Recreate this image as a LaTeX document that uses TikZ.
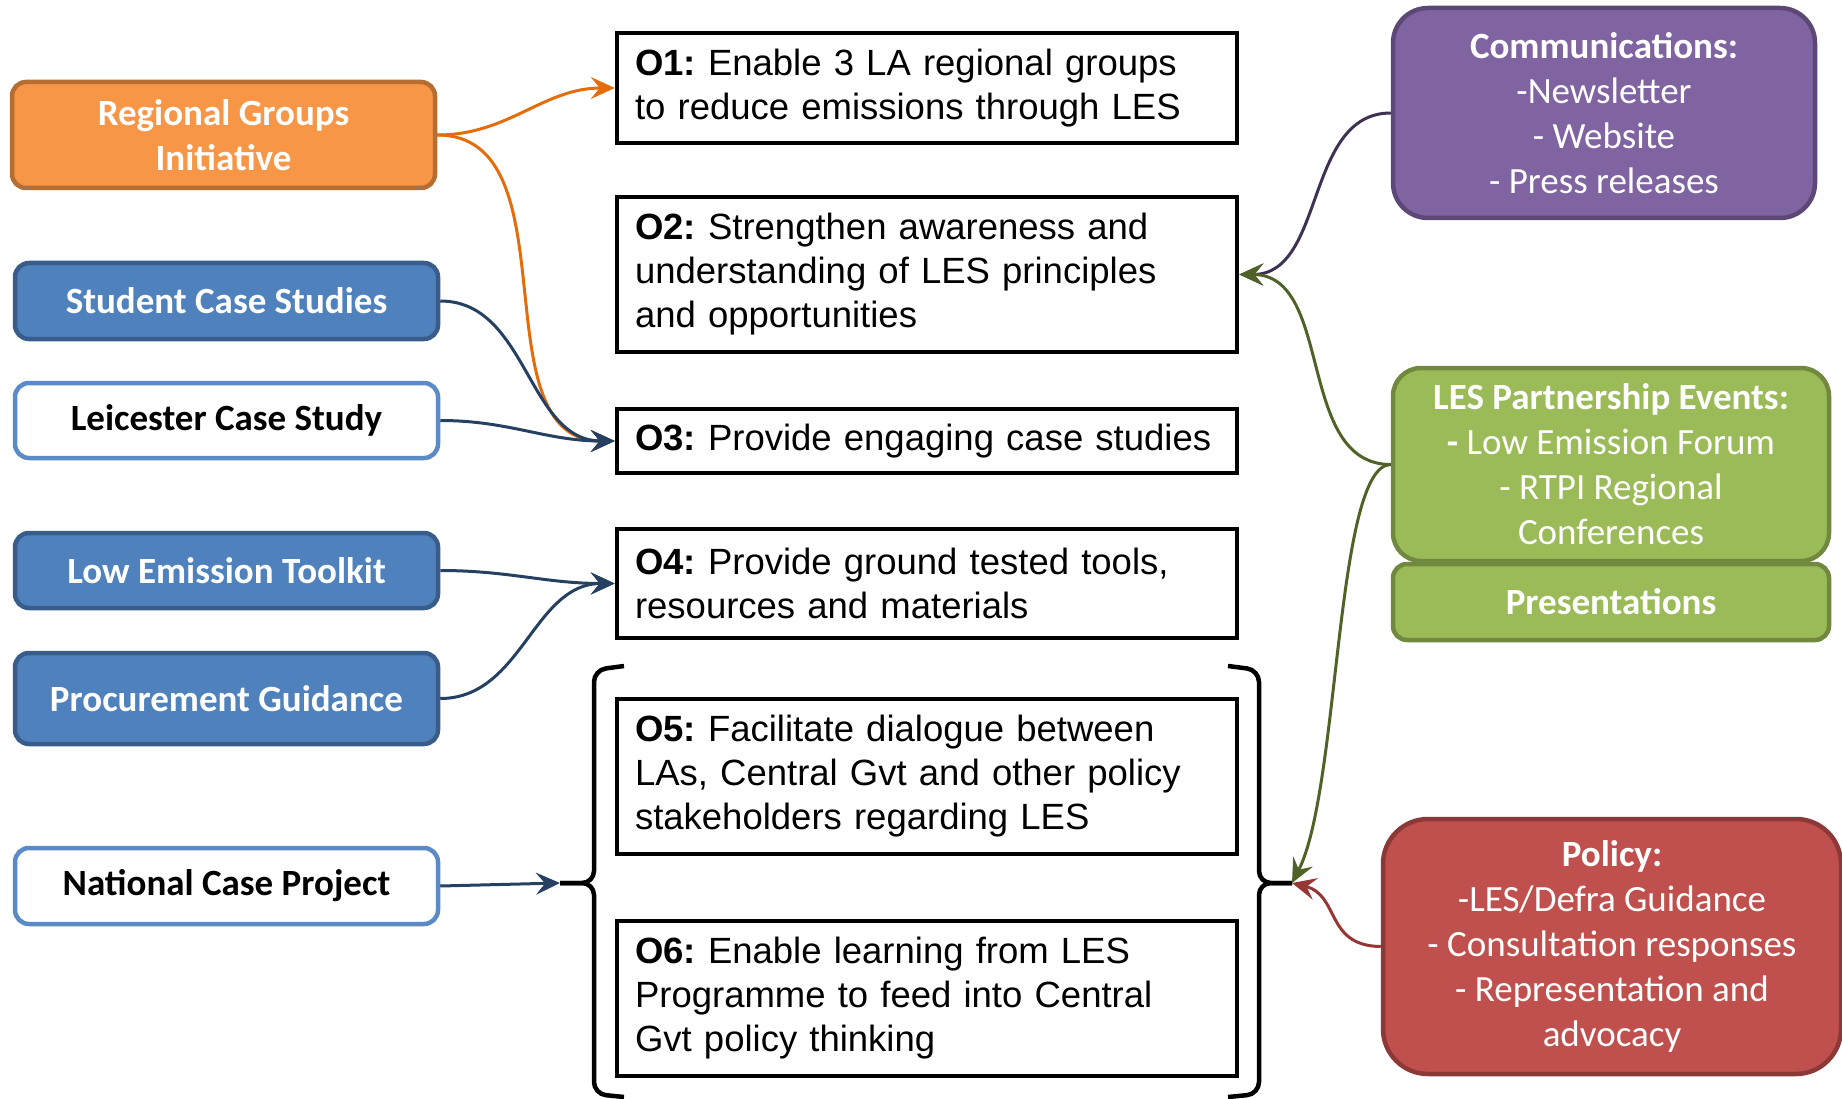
\documentclass[tikz,border=0pt]{standalone}
\usepackage{fontspec}
\setmainfont{Carlito}
\newfontfamily\objfont{Liberation Sans}
\usetikzlibrary{arrows, arrows.meta}
\usetikzlibrary{calc}
\frenchspacing

\definecolor{regfill}{HTML}{F79646}
\definecolor{regline}{HTML}{B66D31}
\definecolor{blufill}{HTML}{4F81BD}
\definecolor{bluline}{HTML}{385D8A}
\definecolor{wbline}{HTML}{5B8BC7}
\definecolor{purfill}{HTML}{8064A2}
\definecolor{purline}{HTML}{5C4776}
\definecolor{grnfill}{HTML}{9BBB59}
\definecolor{grnline}{HTML}{71893F}
\definecolor{redfill}{HTML}{C0504D}
\definecolor{redline}{HTML}{8C3836}
\definecolor{orarrow}{HTML}{E46C0A}
\definecolor{bluarrow}{HTML}{254061}
\definecolor{purarrow}{HTML}{3F3151}
\definecolor{grnarrow}{HTML}{4F6228}
\definecolor{redarrow}{HTML}{953735}

\begin{document}
\begin{tikzpicture}[x=1pt, y=-1pt,
    srcbox/.style={rounded corners=14pt, line width=4.5pt, minimum width=423pt, align=center,
      font=\fontsize{37}{44.5}\selectfont\bfseries},
    sidebox/.style={line width=4.5pt, align=center, text=white, font=\fontsize{37}{45}\selectfont},
    objbox/.style={draw, line width=4.5pt, minimum width=620pt, text width=584pt, inner xsep=18pt,
      align=left, font=\objfont\fontsize{36.5}{44}\selectfont},
    brace/.style={line width=4.5pt, rounded corners=12pt},
    link/.style={line width=3pt, -{Stealth[length=24pt, width=22pt, inset=9pt]}}]
      \useasboundingbox (0,0) rectangle (1842,1099);

      % sources on the left
      \node[srcbox, fill=regfill, draw=regline, text=white, minimum height=106pt] (reg) at (223.5, 135) {Regional Groups\\Initiative};
      \node[srcbox, fill=blufill, draw=bluline, text=white, minimum height=76pt] (stu) at (226.5, 301) {Student Case Studies};
      \node[srcbox, fill=white, draw=wbline, minimum height=75pt] (lei) at (226.5, 420.5) {Leicester Case Study};
      \node[srcbox, fill=blufill, draw=bluline, text=white, minimum height=75pt] (let) at (226.5, 570.5) {Low Emission Toolkit};
      \node[srcbox, fill=blufill, draw=bluline, text=white, minimum height=91pt] (proc) at (226.5, 698.5) {Procurement Guidance};
      \node[srcbox, fill=white, draw=wbline, minimum height=76pt] (nat) at (226.5, 886) {National Case Project};

      % objectives
      \node[objbox, minimum height=110pt] (o1) at (927, 88) {\textbf{O1:} Enable 3 LA regional groups\\to reduce emissions through LES};
      \node[objbox, minimum height=155pt] (o2) at (927, 274.5) {\textbf{O2:} Strengthen awareness and\\understanding of LES principles\\and opportunities};
      \node[objbox, minimum height=64pt] (o3) at (927, 441) {\mbox{\textbf{O3:} Provide engaging case studies}};
      \node[objbox, minimum height=109pt] (o4) at (927, 583.5) {\textbf{O4:} Provide ground tested tools,\\resources and materials};
      \node[objbox, minimum height=155pt] (o5) at (927, 776.5) {\textbf{O5:} Facilitate dialogue between\\LAs, Central Gvt and other policy\\stakeholders regarding LES};
      \node[objbox, minimum height=155pt] (o6) at (927, 998.5) {\textbf{O6:} Enable learning from LES\\Programme to feed into Central\\Gvt policy thinking};

      % braces round O5 and O6
      \coordinate (ltip) at (560, 883);
      \coordinate (rtip) at (1292, 883);
      \draw[brace] (624, 666) -- (594, 670) -- (594, 883) -- (ltip);
      \draw[brace] (ltip) -- (594, 883) -- (594, 1094) -- (624, 1097);
      \draw[brace] (1228, 666) -- (1259, 670) -- (1259, 883) -- (rtip);
      \draw[brace] (rtip) -- (1259, 883) -- (1259, 1094) -- (1228, 1097);

      % activities on the right
      \node[sidebox, fill=purfill, draw=purline, rounded corners=35pt, minimum width=422pt, minimum height=210pt] (comm) at (1604, 113)
        {\textbf{Communications:}\\-Newsletter\\- Website\\- Press releases};
      \node[sidebox, fill=grnfill, draw=grnline, rounded corners=28pt, minimum width=436pt, minimum height=193pt] (evt) at (1611, 464.5)
        {\textbf{LES Partnership Events:}\\\textbf{-} Low Emission Forum\\- RTPI Regional\\Conferences};
      \node[sidebox, fill=grnfill, draw=grnline, rounded corners=14pt, minimum width=436pt, minimum height=76pt] (pres) at (1611, 602)
        {\textbf{Presentations}};
      \node[sidebox, fill=redfill, draw=redline, rounded corners=45pt, minimum width=458pt, minimum height=255pt] (pol) at (1612, 946.5)
        {\textbf{Policy:}\\-LES/Defra Guidance\\- Consultation responses\\- Representation and\\advocacy};

      % connectors
      \draw[link, orarrow] (reg.east) to[out=0, in=180] (o1.west);
      \draw[link, orarrow] (reg.east) to[out=0, in=180] (o3.west);
      \draw[link, bluarrow] (stu.east) to[out=0, in=180] (o3.west);
      \draw[link, bluarrow] (lei.east) to[out=0, in=180] (o3.west);
      \draw[link, bluarrow] (let.east) to[out=0, in=180] (o4.west);
      \draw[link, bluarrow] (proc.east) to[out=0, in=180] (o4.west);
      \draw[link, bluarrow] (nat.east) -- (ltip);
      \draw[link, purarrow] (comm.west) to[out=180, in=0] (o2.east);
      \draw[link, grnarrow] (evt.west) to[out=180, in=0] (o2.east);
      \draw[link, grnarrow] (evt.west) .. controls (1335, 465) and (1340, 790) .. (rtip);
      \draw[link, redarrow] (pol.west) .. controls (1325, 946) and (1340, 895) .. (rtip);
    \end{tikzpicture}
\end{document}
